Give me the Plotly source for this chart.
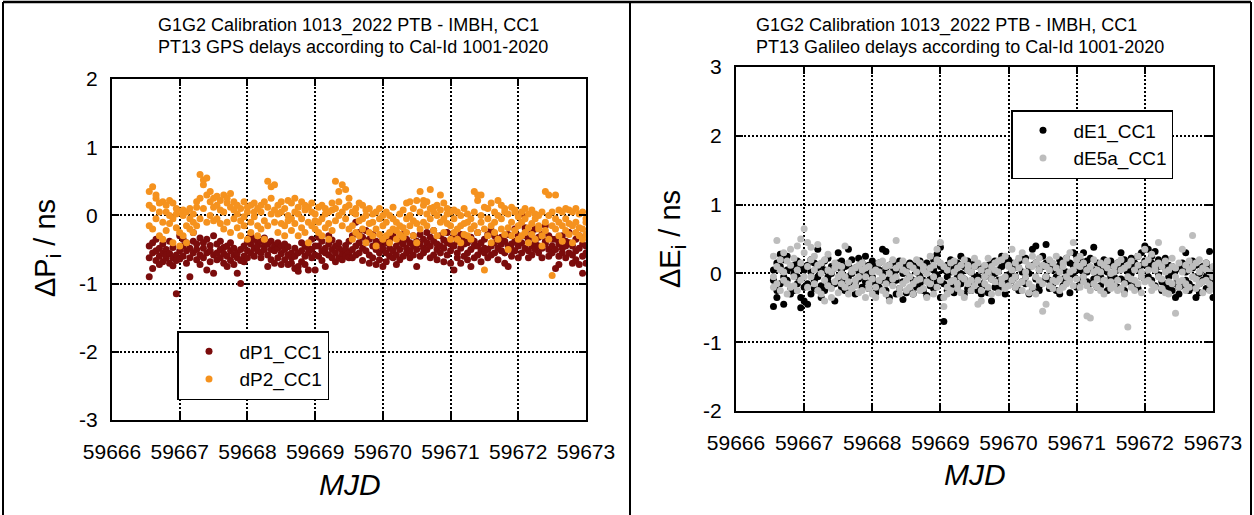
import plotly.graph_objects as go

# ---------------- data ----------------
MJD = [59666.55, 59666.60, 59666.65, 59666.70, 59666.75, 59666.80, 59666.85, 59666.90, 59666.95, 59667.00,
       59667.05, 59667.10, 59667.15, 59667.20, 59667.25, 59667.30, 59667.35, 59667.40, 59667.45, 59667.50,
       59667.55, 59667.60, 59667.65, 59667.70, 59667.75, 59667.80, 59667.85, 59667.90, 59667.95, 59668.00,
       59668.05, 59668.10, 59668.15, 59668.20, 59668.25, 59668.30, 59668.35, 59668.40, 59668.45, 59668.50,
       59668.55, 59668.60, 59668.65, 59668.70, 59668.75, 59668.80, 59668.85, 59668.90, 59668.95, 59669.00,
       59669.05, 59669.10, 59669.15, 59669.20, 59669.25, 59669.30, 59669.35, 59669.40, 59669.45, 59669.50,
       59669.55, 59669.60, 59669.65, 59669.70, 59669.75, 59669.80, 59669.85, 59669.90, 59669.95, 59670.00,
       59670.05, 59670.10, 59670.15, 59670.20, 59670.25, 59670.30, 59670.35, 59670.40, 59670.45, 59670.50,
       59670.55, 59670.60, 59670.65, 59670.70, 59670.75, 59670.80, 59670.85, 59670.90, 59670.95, 59671.00,
       59671.05, 59671.10, 59671.15, 59671.20, 59671.25, 59671.30, 59671.35, 59671.40, 59671.45, 59671.50,
       59671.55, 59671.60, 59671.65, 59671.70, 59671.75, 59671.80, 59671.85, 59671.90, 59671.95, 59672.00,
       59672.05, 59672.10, 59672.15, 59672.20, 59672.25, 59672.30, 59672.35, 59672.40, 59672.45, 59672.50,
       59672.55, 59672.60, 59672.65, 59672.70, 59672.75, 59672.80, 59672.85, 59672.90, 59672.95, 59673.00]

dP1_CC1 = [
    [-0.90, -0.62, -0.45], [-0.78, -0.55, -0.40], [-0.52, -0.66, -0.35], [-0.60, -0.48, -0.72], [-0.55, -0.68, -0.42],
    [-0.63, -0.50, -0.58], [-0.70, -0.56, -0.38], [-0.62, -0.74, -0.47], [-1.15, -0.58, -0.66], [-0.52, -0.64, -0.30],
    [-0.45, -0.60, -0.35], [-0.70, -0.52, -0.40], [-0.90, -0.48, -0.62], [-0.38, -0.55, -0.25], [-0.65, -0.42, -0.50],
    [-0.58, -0.33, -0.72], [-0.48, -0.62, -0.40], [-0.80, -0.55, -0.35], [-0.52, -0.68, -0.44], [-0.85, -0.58, -0.30],
    [-0.55, -0.42, -0.65], [-0.62, -0.50, -0.38], [-0.47, -0.70, -0.56], [-0.60, -0.45, -0.75], [-0.66, -0.52, -0.40],
    [-0.58, -0.72, -0.48], [-0.85, -0.62, -0.55], [-1.00, -0.66, -0.50], [-0.60, -0.45, -0.68], [-0.52, -0.38, -0.62],
    [-0.42, -0.55, -0.30], [-0.48, -0.35, -0.60], [-0.40, -0.52, -0.45], [-0.55, -0.38, -0.62], [-0.45, -0.50, -0.33],
    [-0.75, -0.42, -0.58], [-0.50, -0.65, -0.38], [-0.44, -0.70, -0.52], [-0.62, -0.48, -0.40], [-0.56, -0.72, -0.45],
    [-0.65, -0.50, -0.42], [-0.58, -0.72, -0.46], [-0.70, -0.55, -0.62], [-0.78, -0.60, -0.48], [-0.75, -0.82, -0.55],
    [-0.52, -0.68, -0.40], [-0.60, -0.45, -0.72], [-0.55, -0.80, -0.48], [-0.50, -0.62, -0.35], [-0.80, -0.58, -0.45],
    [-0.45, -0.60, -0.32], [-0.52, -0.38, -0.66], [-0.75, -0.48, -0.55], [-0.42, -0.58, -0.30], [-0.50, -0.36, -0.62],
    [-0.55, -0.45, -0.68], [-0.48, -0.62, -0.40], [-0.52, -0.58, -0.65], [-0.60, -0.44, -0.50], [-0.38, -0.55, -0.62],
    [-0.30, -0.50, -0.62], [-0.10, -0.45, -0.58], [-0.40, -0.55, -0.25], [-0.48, -0.32, -0.66], [-0.22, -0.52, -0.40],
    [-0.58, -0.35, -0.70], [-0.45, -0.62, -0.28], [-0.50, -0.38, -0.72], [-0.65, -0.42, -0.55], [-0.48, -0.75, -0.35],
    [-0.55, -0.40, -0.68], [-0.35, -0.60, -0.48], [-0.52, -0.30, -0.62], [-0.45, -0.58, -0.72], [-0.38, -0.65, -0.50],
    [-0.60, -0.42, -0.28], [-0.48, -0.55, -0.35], [-0.62, -0.40, -0.52], [-0.30, -0.58, -0.45], [-0.75, -0.50, -0.38],
    [-0.42, -0.28, -0.60], [-0.55, -0.35, -0.48], [-0.25, -0.50, -0.40], [-0.62, -0.45, -0.32], [-0.38, -0.58, -0.22],
    [-0.50, -0.42, -0.65], [-0.30, -0.55, -0.45], [-0.48, -0.68, -0.36], [-0.40, -0.25, -0.58], [-0.70, -0.52, -0.42],
    [-0.80, -0.45, -0.30], [-0.38, -0.55, -0.62], [-0.48, -0.28, -0.70], [-0.42, -0.60, -0.35], [-0.55, -0.40, -0.65],
    [-0.32, -0.50, -0.75], [-0.62, -0.38, -0.45], [-0.45, -0.58, -0.25], [-0.68, -0.40, -0.52], [-0.35, -0.55, -0.48],
    [-0.50, -0.28, -0.62], [-0.22, -0.45, -0.58], [-0.40, -0.55, -0.30], [-0.48, -0.65, -0.35], [-0.32, -0.52, -0.42],
    [-0.55, -0.38, -0.70], [-0.45, -0.75, -0.28], [-0.60, -0.42, -0.50], [-0.38, -0.52, -0.20], [-0.45, -0.62, -0.30],
    [0.02, -0.40, -0.55], [-0.30, -0.48, -0.18], [-0.52, -0.35, -0.62], [-0.25, -0.45, -0.58], [-0.40, -0.20, -0.50],
    [-0.55, -0.32, -0.45], [-0.28, -0.48, -0.62], [-0.42, -0.15, -0.38], [-0.50, -0.30, -0.60], [-0.35, -0.55, -0.45],
    [-0.78, -0.50, -0.35], [-0.72, -0.42, -0.60], [-0.55, -0.30, -0.48], [-0.45, -0.62, -0.38], [-0.40, -0.25, -0.55],
    [-0.58, -0.45, -0.70], [-0.35, -0.52, -0.65], [-0.48, -0.72, -0.30], [-0.85, -0.60, -0.42], [-0.70, -0.55, -0.45],
]

dP2_CC1 = [
    [0.35, -0.15, 0.15], [0.42, 0.10, -0.20], [0.25, -0.05, 0.30], [0.18, -0.30, 0.05], [0.20, -0.10, -0.35],
    [0.05, 0.15, -0.22], [0.22, -0.12, 0.00], [-0.05, 0.18, -0.40], [0.10, -0.18, 0.02], [-0.25, 0.05, -0.45],
    [0.00, -0.30, 0.08], [-0.15, 0.05, -0.40], [0.10, -0.20, -0.05], [-0.10, 0.02, -0.25], [0.12, -0.15, 0.20],
    [0.60, 0.25, -0.05], [0.45, 0.10, 0.52], [0.30, 0.55, -0.10], [0.20, 0.00, 0.35], [0.25, -0.08, 0.12],
    [0.15, 0.28, -0.05], [0.22, -0.12, 0.08], [0.30, 0.05, -0.20], [0.18, 0.25, -0.10], [0.32, 0.12, -0.25],
    [0.08, -0.05, 0.20], [0.15, -0.18, 0.02], [-0.08, 0.10, -0.30], [0.20, -0.15, -0.02], [0.05, -0.35, 0.12],
    [-0.10, 0.15, -0.25], [0.18, -0.02, 0.05], [-0.15, 0.10, -0.30], [0.05, -0.20, 0.15], [0.20, -0.08, -0.35],
    [0.50, 0.12, -0.15], [0.42, 0.02, 0.25], [0.45, -0.10, 0.08], [0.15, -0.25, 0.02], [0.05, -0.12, 0.20],
    [0.10, -0.15, -0.30], [0.22, 0.00, -0.08], [-0.05, 0.18, -0.22], [0.25, 0.05, -0.12], [0.12, -0.30, 0.02],
    [0.20, -0.05, -0.18], [0.08, -0.25, 0.15], [-0.10, 0.12, -0.40], [0.05, -0.15, 0.18], [-0.20, 0.02, -0.08],
    [0.12, -0.10, -0.25], [-0.05, 0.15, -0.30], [0.02, -0.18, 0.10], [-0.12, 0.05, -0.35], [0.08, -0.22, 0.18],
    [0.50, 0.10, -0.08], [0.35, 0.00, 0.20], [0.45, -0.15, 0.05], [0.38, -0.05, 0.12], [0.15, -0.20, 0.25],
    [0.05, -0.15, -0.35], [0.10, -0.25, 0.02], [-0.08, 0.18, -0.30], [0.15, -0.05, -0.20], [0.00, -0.40, 0.08],
    [-0.12, 0.10, -0.25], [0.02, -0.30, -0.10], [-0.20, 0.05, -0.45], [-0.05, -0.28, 0.10], [-0.15, 0.00, -0.35],
    [-0.10, -0.30, 0.05], [-0.25, 0.00, -0.40], [-0.05, -0.20, 0.12], [-0.35, -0.10, -0.22], [0.02, -0.28, -0.15],
    [-0.18, 0.08, -0.32], [0.18, -0.05, -0.25], [0.20, -0.15, 0.00], [-0.08, 0.10, -0.30], [0.22, -0.12, -0.40],
    [0.35, 0.05, -0.20], [0.15, -0.10, 0.22], [0.02, 0.20, -0.15], [0.38, -0.05, 0.10], [0.12, -0.22, 0.05],
    [0.00, 0.15, -0.30], [0.30, 0.08, -0.10], [-0.05, 0.18, -0.25], [0.10, -0.12, 0.02], [-0.15, 0.05, -0.35],
    [-0.05, -0.25, 0.08], [-0.20, 0.05, -0.35], [0.00, -0.15, -0.40], [-0.28, 0.10, -0.12], [-0.10, -0.30, 0.02],
    [-0.35, -0.05, -0.20], [0.35, -0.15, 0.05], [0.22, -0.25, 0.30], [0.30, -0.10, 0.00], [-0.80, -0.20, 0.12],
    [-0.05, -0.30, 0.10], [0.18, -0.15, -0.40], [-0.10, 0.05, -0.25], [0.22, -0.35, 0.00], [0.15, -0.05, -0.20],
    [0.10, -0.28, 0.05], [-0.18, 0.02, -0.50], [0.12, -0.10, -0.30], [0.05, -0.22, 0.08], [-0.15, -0.02, -0.35],
    [-0.10, 0.05, -0.30], [-0.25, -0.05, 0.10], [0.02, -0.18, -0.40], [-0.12, 0.08, -0.28], [-0.05, -0.35, 0.02],
    [-0.20, 0.00, -0.15], [0.05, -0.30, -0.45], [0.35, -0.10, -0.22], [0.30, 0.00, -0.35], [-0.88, -0.15, 0.05],
    [0.30, -0.20, -0.05], [-0.10, 0.08, -0.30], [0.05, -0.15, -0.38], [-0.22, 0.10, -0.05], [0.08, -0.28, -0.12],
    [-0.15, 0.05, -0.40], [0.10, -0.10, -0.25], [-0.30, 0.02, -0.18], [0.05, -0.20, -0.35], [-0.10, -0.05, -0.28],
]

dE1_CC1 = [
    [-0.10, -0.48, 0.05], [-0.25, 0.15, -0.35], [0.10, -0.15, 0.28], [-0.05, 0.20, -0.45], [0.25, -0.10, 0.05],
    [-0.20, 0.08, -0.30], [0.12, -0.25, 0.00], [-0.15, 0.18, -0.05], [-0.50, -0.35, 0.10], [-0.40, -0.20, 0.05],
    [-0.45, -0.15, 0.12], [0.02, -0.30, 0.20], [-0.10, 0.15, -0.22], [0.35, -0.05, 0.08], [-0.18, 0.12, -0.35],
    [0.05, -0.25, 0.18], [-0.12, 0.22, -0.05], [0.10, -0.18, 0.00], [-0.40, 0.08, -0.15], [0.15, -0.08, 0.30],
    [0.05, -0.20, 0.18], [-0.12, 0.10, -0.25], [0.35, -0.05, 0.12], [-0.18, 0.20, 0.00], [0.08, -0.15, -0.30],
    [0.22, -0.08, 0.05], [-0.05, 0.15, -0.20], [0.10, -0.12, 0.25], [-0.22, 0.02, 0.12], [0.18, -0.10, -0.05],
    [-0.15, 0.10, -0.28], [0.05, -0.20, 0.15], [0.35, -0.10, 0.00], [0.32, -0.25, 0.08], [-0.08, 0.12, -0.35],
    [0.15, -0.15, 0.02], [-0.30, 0.05, -0.10], [0.10, -0.22, 0.18], [-0.12, 0.00, -0.38], [0.08, -0.28, 0.12],
    [-0.05, 0.15, -0.22], [0.12, -0.10, -0.30], [-0.20, 0.08, 0.02], [0.18, -0.15, -0.05], [-0.10, 0.05, -0.25],
    [0.02, -0.32, 0.15], [-0.18, 0.10, -0.08], [0.05, -0.22, 0.20], [0.28, -0.12, -0.02], [0.38, -0.35, 0.10],
    [-0.70, 0.05, -0.15], [-0.25, 0.12, -0.05], [0.02, -0.18, 0.20], [-0.10, 0.08, -0.28], [0.15, -0.05, -0.20],
    [0.25, -0.15, 0.00], [-0.08, 0.10, -0.30], [0.18, -0.22, 0.05], [-0.12, 0.02, -0.25], [0.10, -0.05, 0.15],
    [-0.05, -0.25, 0.12], [0.05, -0.15, -0.30], [-0.18, 0.10, -0.05], [0.12, -0.28, 0.02], [-0.40, -0.08, 0.15],
    [0.00, -0.20, 0.18], [-0.22, 0.05, -0.10], [0.10, -0.15, 0.25], [-0.08, 0.15, -0.30], [0.20, -0.02, -0.12],
    [0.15, -0.10, 0.05], [-0.20, 0.12, -0.05], [0.08, -0.25, 0.18], [-0.12, 0.02, 0.20], [0.22, -0.15, -0.05],
    [-0.30, 0.10, 0.00], [0.12, -0.22, 0.35], [0.40, -0.08, 0.15], [-0.18, 0.05, -0.25], [0.10, -0.12, 0.25],
    [0.42, -0.05, 0.15], [-0.10, 0.18, -0.22], [0.05, -0.15, 0.10], [-0.25, 0.08, -0.05], [0.12, -0.30, 0.20],
    [-0.08, 0.05, -0.18], [0.22, -0.12, 0.02], [-0.05, 0.15, -0.28], [0.30, 0.00, 0.12], [0.10, -0.20, 0.25],
    [0.05, 0.20, -0.10], [0.30, -0.05, 0.12], [-0.12, 0.18, 0.02], [0.08, -0.15, 0.22], [0.38, 0.05, -0.08],
    [0.15, -0.20, 0.00], [-0.05, 0.10, -0.18], [0.20, -0.10, 0.05], [0.02, 0.15, -0.25], [0.12, -0.05, 0.18],
    [-0.05, 0.10, -0.15], [0.15, -0.20, 0.05], [0.30, -0.08, 0.12], [-0.10, 0.20, -0.25], [0.08, -0.12, 0.02],
    [0.22, 0.00, -0.10], [-0.18, 0.10, 0.15], [0.05, -0.22, 0.25], [0.12, -0.05, 0.30], [0.40, 0.18, -0.08],
    [0.35, 0.10, -0.05], [0.25, -0.10, 0.15], [0.05, 0.32, -0.18], [0.20, -0.02, 0.10], [-0.12, 0.15, -0.25],
    [0.08, -0.15, 0.22], [-0.05, 0.12, -0.20], [-0.25, 0.02, 0.10], [-0.35, -0.15, 0.05], [-0.30, 0.08, -0.20],
    [0.05, -0.18, 0.15], [0.30, -0.10, 0.02], [-0.15, 0.10, -0.25], [0.08, -0.20, 0.18], [-0.35, -0.05, 0.12],
    [0.00, -0.15, -0.28], [0.10, 0.05, -0.10], [-0.22, 0.15, -0.05], [0.32, -0.12, 0.08], [-0.35, 0.05, -0.15],
]

dE5a_CC1 = [
    [0.25, -0.05, -0.20], [0.48, 0.10, -0.15], [0.05, -0.25, 0.20], [0.30, -0.10, 0.02], [-0.15, 0.18, -0.30],
    [0.12, -0.20, 0.35], [-0.05, 0.22, -0.18], [0.40, 0.05, -0.25], [0.50, 0.15, -0.10], [0.65, 0.30, -0.05],
    [0.45, 0.10, -0.20], [0.38, -0.05, 0.20], [0.25, -0.15, 0.05], [0.42, 0.12, -0.25], [0.00, -0.30, 0.15],
    [-0.10, 0.20, -0.40], [0.05, -0.18, 0.28], [-0.22, 0.02, -0.35], [0.15, -0.12, 0.08], [-0.05, -0.28, 0.12],
    [0.00, -0.15, 0.10], [0.40, -0.05, -0.20], [-0.12, 0.15, -0.30], [0.05, -0.22, 0.02], [-0.18, 0.08, -0.10],
    [0.12, -0.28, -0.05], [-0.25, 0.05, 0.15], [-0.05, -0.35, 0.08], [0.10, -0.15, -0.22], [-0.08, 0.02, -0.30],
    [-0.20, 0.05, -0.35], [0.15, -0.10, 0.02], [-0.05, -0.25, 0.18], [0.10, -0.15, -0.30], [-0.40, 0.00, 0.12],
    [0.20, -0.18, -0.08], [0.48, -0.05, 0.08], [-0.22, 0.12, -0.30], [0.05, -0.15, 0.18], [-0.10, 0.02, -0.25],
    [0.12, -0.20, -0.05], [-0.15, 0.08, -0.30], [0.20, -0.10, 0.02], [-0.25, 0.15, -0.08], [0.05, -0.22, 0.10],
    [-0.12, 0.00, -0.35], [0.08, -0.15, 0.25], [-0.30, 0.12, -0.05], [0.20, -0.20, 0.35], [0.15, -0.10, 0.45],
    [-0.35, -0.48, 0.10], [0.05, -0.20, -0.30], [-0.12, 0.15, -0.25], [0.02, -0.10, 0.18], [-0.22, 0.08, -0.15],
    [0.12, -0.28, -0.05], [-0.08, 0.20, -0.35], [0.05, -0.15, 0.12], [-0.25, 0.02, -0.10], [0.10, -0.18, 0.22],
    [-0.45, -0.10, 0.15], [0.05, -0.25, -0.40], [-0.15, 0.12, -0.05], [0.22, -0.20, 0.02], [-0.08, 0.10, -0.30],
    [0.15, -0.12, 0.05], [-0.28, 0.02, 0.18], [0.20, -0.15, -0.08], [-0.05, 0.25, -0.22], [0.10, -0.18, 0.12],
    [0.35, -0.10, 0.05], [-0.20, 0.15, -0.05], [0.08, -0.15, 0.22], [-0.12, 0.30, -0.25], [0.18, -0.05, 0.02],
    [-0.28, 0.12, -0.15], [0.10, -0.20, 0.25], [-0.05, 0.15, -0.30], [0.22, -0.10, 0.05], [-0.55, -0.15, 0.12],
    [-0.45, 0.10, -0.05], [0.20, -0.18, 0.05], [-0.10, 0.15, -0.22], [0.08, -0.12, 0.25], [-0.25, 0.02, -0.08],
    [0.15, -0.20, 0.10], [-0.05, 0.22, -0.15], [0.30, -0.10, 0.02], [0.45, 0.05, -0.18], [0.20, -0.08, 0.12],
    [0.10, -0.20, 0.25], [-0.05, 0.15, -0.12], [-0.62, -0.18, 0.05], [-0.65, 0.10, -0.25], [0.02, -0.15, 0.20],
    [-0.20, 0.05, -0.08], [0.15, -0.25, 0.02], [-0.10, 0.12, -0.30], [0.08, -0.15, 0.18], [-0.22, 0.00, -0.12],
    [0.10, -0.18, 0.02], [-0.25, 0.15, -0.10], [0.05, -0.22, 0.20], [-0.15, 0.08, -0.30], [-0.78, -0.05, 0.12],
    [0.18, -0.20, -0.08], [-0.10, 0.05, -0.25], [0.12, -0.15, 0.25], [-0.28, 0.02, -0.05], [0.15, -0.12, 0.35],
    [0.20, -0.10, 0.05], [-0.15, 0.28, -0.25], [0.05, -0.20, 0.12], [0.45, -0.05, 0.15], [-0.22, 0.10, -0.08],
    [0.02, -0.28, 0.18], [-0.12, 0.05, -0.30], [0.10, -0.15, 0.22], [-0.58, -0.05, 0.08], [-0.20, 0.15, -0.12],
    [0.35, -0.10, 0.02], [-0.15, 0.12, -0.25], [0.05, -0.20, 0.18], [0.55, -0.05, 0.10], [-0.22, 0.15, -0.08],
    [0.02, -0.15, 0.20], [-0.12, 0.08, -0.28], [0.15, -0.10, 0.05], [-0.25, 0.02, -0.15], [0.10, -0.18, -0.05],
]

X_TICKS = [59666, 59667, 59668, 59669, 59670, 59671, 59672, 59673]
X_TICK_TEXT = ["59666", "59667", "59668", "59669", "59670", "59671", "59672", "59673"]
Y_TICKS_GPS = [-3, -2, -1, 0, 1, 2]
Y_TICK_TEXT_GPS = ["-3", "-2", "-1", "0", "1", "2"]
Y_TICKS_GAL = [-2, -1, 0, 1, 2, 3]
Y_TICK_TEXT_GAL = ["-2", "-1", "0", "1", "2", "3"]

TITLE1_GPS = "G1G2 Calibration 1013_2022 PTB - IMBH, CC1"
TITLE2_GPS = "PT13 GPS delays according to Cal-Id 1001-2020"
TITLE1_GAL = "G1G2 Calibration 1013_2022 PTB - IMBH, CC1"
TITLE2_GAL = "PT13 Galileo delays according to Cal-Id 1001-2020"

# ---------------- helpers ----------------
W, H = 1254, 515
FONT = "Liberation Sans, Arial, sans-serif"


def flat(epochs, rows):
    xs, ys = [], []
    for e, r in zip(epochs, rows):
        for v in r:
            xs.append(e)
            ys.append(v)
    return xs, ys


def px(x):
    return x / W


def py(y):
    return 1 - y / H


fig = go.Figure()

series = [
    ("dP1_CC1", dP1_CC1, "#7b0c0c", "x", "y", "legend"),
    ("dP2_CC1", dP2_CC1, "#f5921e", "x", "y", "legend"),
    ("dE1_CC1", dE1_CC1, "#000000", "x2", "y2", "legend2"),
    ("dE5a_CC1", dE5a_CC1, "#bdbdbd", "x2", "y2", "legend2"),
]
for name, rows, col, xa, ya, lg in series:
    xs, ys = flat(MJD, rows)
    fig.add_trace(go.Scatter(x=xs, y=ys, mode="markers", name=name,
                             marker=dict(color=col, size=7, line=dict(width=0)),
                             xaxis=xa, yaxis=ya, legend=lg, hoverinfo="skip"))

axis_common = dict(showline=True, linewidth=2, linecolor="black", mirror="ticks",
                   ticks="inside", ticklen=7, tickwidth=1.5, tickcolor="black",
                   showgrid=True, gridcolor="black", gridwidth=1.5, griddash="2px,2px",
                   zeroline=False, automargin=False,
                   tickfont=dict(family=FONT, size=21, color="black"))

fig.update_layout(
    width=W, height=H, margin=dict(l=0, r=0, t=0, b=0, pad=0, autoexpand=False),
    paper_bgcolor="white", plot_bgcolor="white", showlegend=True,
    font=dict(family=FONT, color="black"),
    xaxis=dict(domain=[px(112), px(586)], range=[59666, 59673], tickvals=X_TICKS, ticktext=X_TICK_TEXT,
               anchor="y", ticklabelstandoff=12, **axis_common),
    yaxis=dict(domain=[py(420), py(79)], range=[-3, 2], tickvals=Y_TICKS_GPS, ticktext=Y_TICK_TEXT_GPS,
               anchor="x", ticklabelstandoff=8, **axis_common),
    xaxis2=dict(domain=[px(736), px(1213)], range=[59666, 59673], tickvals=X_TICKS, ticktext=X_TICK_TEXT,
                anchor="y2", ticklabelstandoff=12, **axis_common),
    yaxis2=dict(domain=[py(411), py(67)], range=[-2, 3], tickvals=Y_TICKS_GAL, ticktext=Y_TICK_TEXT_GAL,
                anchor="x2", ticklabelstandoff=8, **axis_common),
    legend=dict(x=px(177), y=py(331), xanchor="left", yanchor="top", bordercolor="black", borderwidth=1.5,
                bgcolor="white", font=dict(family=FONT, size=19, color="black"), itemwidth=51,
                tracegroupgap=0),
    legend2=dict(x=px(1011), y=py(110), xanchor="left", yanchor="top", bordercolor="black", borderwidth=1.5,
                 bgcolor="white", font=dict(family=FONT, size=19, color="black"), itemwidth=51,
                 tracegroupgap=0),
)

ann = []
tf = dict(family=FONT, size=18, color="black")
for x0, t1, t2 in [(156, TITLE1_GPS, TITLE2_GPS), (754, TITLE1_GAL, TITLE2_GAL)]:
    ann.append(dict(text=t1, x=px(x0), y=py(26), xref="paper", yref="paper", xanchor="left", yanchor="middle",
                    showarrow=False, font=tf))
    ann.append(dict(text=t2, x=px(x0), y=py(47), xref="paper", yref="paper", xanchor="left", yanchor="middle",
                    showarrow=False, font=tf))
big = dict(family=FONT, size=29, color="black")
ann.append(dict(text="ΔP<sub>i</sub> / ns", x=px(47), y=py(248), xref="paper", yref="paper", textangle=-90,
                xanchor="center", yanchor="middle", showarrow=False, font=big))
ann.append(dict(text="ΔE<sub>i</sub> / ns", x=px(672), y=py(239), xref="paper", yref="paper", textangle=-90,
                xanchor="center", yanchor="middle", showarrow=False, font=big))
mjd = dict(family=FONT, size=30, color="black")
ann.append(dict(text="<i>MJD</i>", x=px(350), y=py(484), xref="paper", yref="paper", xanchor="center",
                yanchor="middle", showarrow=False, font=mjd))
ann.append(dict(text="<i>MJD</i>", x=px(975), y=py(474), xref="paper", yref="paper", xanchor="center",
                yanchor="middle", showarrow=False, font=mjd))
fig.update_layout(annotations=ann)

# panel frame lines
for x0 in [3, 630, 1251]:
    fig.add_shape(type="line", xref="paper", yref="paper", x0=px(x0), x1=px(x0), y0=0, y1=py(2),
                  line=dict(color="black", width=2))
fig.add_shape(type="line", xref="paper", yref="paper", x0=px(3), x1=px(1251), y0=py(2), y1=py(2),
              line=dict(color="black", width=2.5))

fig.write_html("out.html", config={"displayModeBar": False},
               post_script="document.body.style.margin='0';document.body.style.overflow='hidden';")
